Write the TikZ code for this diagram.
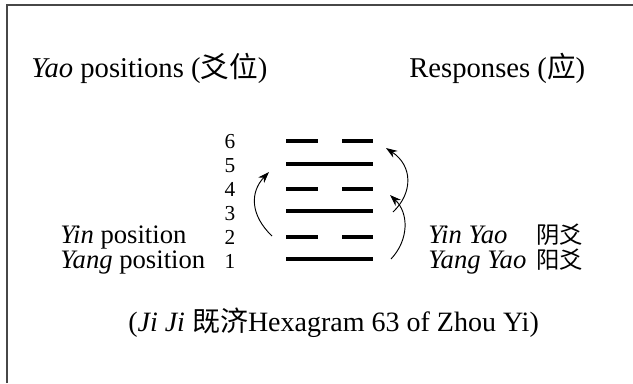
\documentclass[tikz,border=0pt]{standalone}
\usepackage{fontspec}
\setmainfont{Liberation Serif}
\newfontfamily\cjk{Noto Sans CJK SC}
\usetikzlibrary{arrows.meta}
\begin{document}
\begin{tikzpicture}[x=0.75pt,y=-0.75pt,
  ttl/.style={font=\fontsize{21.5}{25}\selectfont, inner sep=0, anchor=base west},
  lbl/.style={font=\fontsize{20}{24}\selectfont, inner sep=0, anchor=base west},
  cjklbl/.style={font=\fontsize{17.5}{20}\selectfont\cjk, inner sep=0, anchor=base west},
  num/.style={font=\fontsize{16}{18}\selectfont, inner sep=0, anchor=base},
  yaoline/.style={line width=2.7pt},
  arr/.style={-{Stealth[length=8.5pt,width=6pt]}, line width=0.7pt}]
\useasboundingbox (0,0) rectangle (633,383);
\draw[line width=1.1pt, black!72] (7,383) -- (7,5) -- (633,5);

% titles
\node[ttl] (tl) at (31,77) {\textit{Yao} positions ({\cjk 爻位})};
\node[ttl] (tr) at (409,77) {Responses ({\cjk 应})};

% position numbers
\node[num] (n6) at (230,148) {6};
\node[num] (n5) at (230,172) {5};
\node[num] (n4) at (230,196) {4};
\node[num] (n3) at (230,220) {3};
\node[num] (n2) at (230,244) {2};
\node[num] (n1) at (230,268) {1};

% left labels
\node[lbl] (yinpos) at (60,243) {\textit{Yin} position};
\node[lbl] (yangpos) at (60,268) {\textit{Yang} position};

% right labels
\node[lbl] (yinyao) at (428,243) {\textit{Yin Yao}};
\node[cjklbl] (yinyaoc) at (536,243) {阴爻};
\node[lbl] (yangyao) at (428,268) {\textit{Yang Yao}};
\node[cjklbl] (yangyaoc) at (536,268) {阳爻};

% hexagram 63 (Ji Ji): yang, yin, yang, yin, yang, yin from bottom
\draw[yaoline] (286,259) -- (373,259);
\draw[yaoline] (286,237) -- (318,237) (342,237) -- (373,237);
\draw[yaoline] (286,211) -- (373,211);
\draw[yaoline] (286,189) -- (318,189) (342,189) -- (373,189);
\draw[yaoline] (286,164) -- (373,164);
\draw[yaoline] (286,141) -- (318,141) (342,141) -- (373,141);

% arrow end points
\coordinate (la) at (272,236);
\coordinate (lb) at (269,172);
\coordinate (ra1) at (391,259);
\coordinate (rb1) at (390,195);
\coordinate (ra2) at (393,212);
\coordinate (rb2) at (386,148);

\draw[arr] (la) .. controls (250,215) and (250,192) .. (lb);
\draw[arr] (ra1) .. controls (409,240) and (409,213) .. (rb1);
\draw[arr] (ra2) .. controls (413,193) and (413,166) .. (rb2);

% caption
\node[lbl, font=\fontsize{21}{25}\selectfont] (cap) at (128,331) {(\textit{Ji Ji} {\cjk 既济}Hexagram 63 of Zhou Yi)};
\end{tikzpicture}
\end{document}
